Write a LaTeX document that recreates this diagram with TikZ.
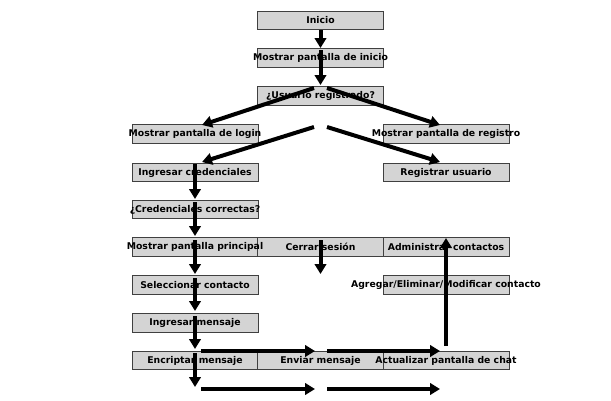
\documentclass[tikz,border=0pt]{standalone}
\usepackage{fontspec}
\setmainfont{DejaVu Sans}
\usetikzlibrary{arrows.meta}
\begin{document}
\begin{tikzpicture}[x=1pt,y=-1pt,
  stepbox/.style={draw=black!75,line width=0.8pt,fill=black!17,
    minimum width=126pt,minimum height=18.5pt,inner sep=0pt},
  steptext/.style={font=\fontsize{9.3}{11}\selectfont\bfseries,inner sep=0pt},
  flow/.style={line width=4pt,-{Triangle[length=10pt,width=11.5pt]}}]
\useasboundingbox (0,0) rectangle (611,400);

% boxes of the flow chart
\foreach \n/\x/\y in {ini/320.5/20.5, pant/320.5/58, usr/320.5/96,
    login/195/134, reg/446/134, cred/195/172.5, regu/446/172.5,
    ok/195/209.5, princ/195/247, cerrar/320.5/247, admin/446/247,
    sel/195/285, agr/446/285, ingm/195/323,
    enc/195/360.5, env/320.5/360.5, act/446/360.5}
  \node[stepbox] (\n) at (\x,\y) {};

% labels, set on top of the boxes
\node[steptext] at (ini) {Inicio};
\node[steptext] at (pant) {Mostrar pantalla de inicio};
\node[steptext] at (usr) {¿Usuario registrado?};
\node[steptext] at (login) {Mostrar pantalla de login};
\node[steptext] at (reg) {Mostrar pantalla de registro};
\node[steptext] at (cred) {Ingresar credenciales};
\node[steptext] at (regu) {Registrar usuario};
\node[steptext] at (ok) {¿Credenciales correctas?};
\node[steptext] at (princ) {Mostrar pantalla principal};
\node[steptext] at (cerrar) {Cerrar sesión};
\node[steptext] at (admin) {Administrar contactos};
\node[steptext] at (sel) {Seleccionar contacto};
\node[steptext] at (agr) {Agregar/Eliminar/Modificar contacto};
\node[steptext] at (ingm) {Ingresar mensaje};
\node[steptext] at (enc) {Encriptar mensaje};
\node[steptext] at (env) {Enviar mensaje};
\node[steptext] at (act) {Actualizar pantalla de chat};

% arrow end points
\coordinate (a1s) at (320.5,30);   \coordinate (a1e) at (320.5,48);
\coordinate (a2s) at (320.5,50);   \coordinate (a2e) at (320.5,85);
\coordinate (d1s) at (314,88);     \coordinate (d1e) at (202,125);
\coordinate (d2s) at (327,88);     \coordinate (d2e) at (440,125);
\coordinate (d3s) at (314,127);    \coordinate (d3e) at (202,162);
\coordinate (d4s) at (327,127);    \coordinate (d4e) at (440,162);
\coordinate (v1s) at (195,164);    \coordinate (v1e) at (195,199);
\coordinate (v2s) at (195,202);    \coordinate (v2e) at (195,236);
\coordinate (v3s) at (195,240);    \coordinate (v3e) at (195,274);
\coordinate (m1s) at (320.5,240);  \coordinate (m1e) at (320.5,274);
\coordinate (v4s) at (195,278);    \coordinate (v4e) at (195,311);
\coordinate (v5s) at (195,316);    \coordinate (v5e) at (195,349);
\coordinate (v6s) at (195,353);    \coordinate (v6e) at (195,387);
\coordinate (u1s) at (446,346);    \coordinate (u1e) at (446,238);
\coordinate (h1s) at (201,351);    \coordinate (h1e) at (315,351);
\coordinate (h2s) at (327,351);    \coordinate (h2e) at (440,351);
\coordinate (h3s) at (201,389);    \coordinate (h3e) at (315,389);
\coordinate (h4s) at (327,389);    \coordinate (h4e) at (440,389);

% arrows
\foreach \a in {a1,a2,d1,d2,d3,d4,v1,v2,v3,m1,v4,v5,v6,u1,h1,h2,h3,h4}
  \draw[flow] (\a s) -- (\a e);
\end{tikzpicture}
\end{document}
